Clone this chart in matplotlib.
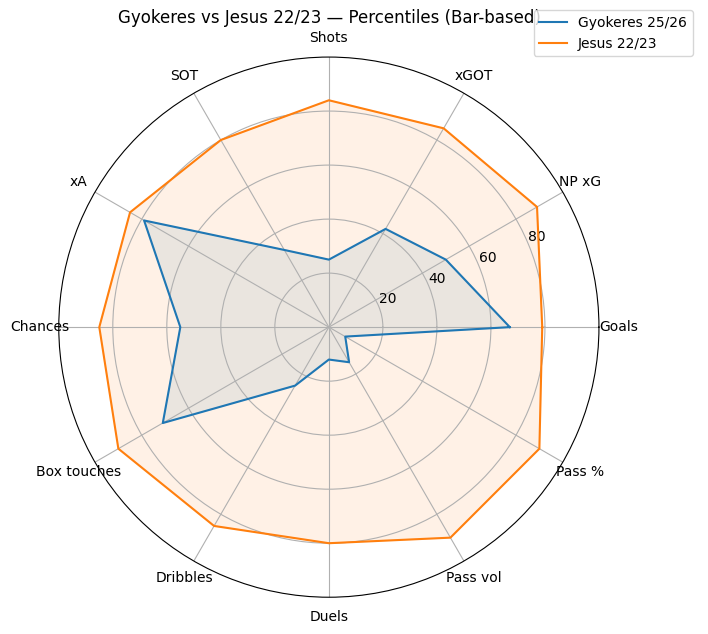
import numpy as np
import matplotlib
matplotlib.use("Agg")
import matplotlib.pyplot as plt

categories = ["Goals", "NP xG", "xGOT", "Shots", "SOT", "xA", "Chances",
              "Box touches", "Dribbles", "Duels", "Pass vol", "Pass %"]
gyokeres = [67, 50, 42, 25, 33, 79, 55, 71, 25, 12, 15, 7]
jesus = [79, 89, 85, 84, 80, 85, 85, 90, 85, 80, 90, 90]

n = len(categories)
angles = np.linspace(0, 2*np.pi, n, endpoint=False).tolist()
angles_c = angles + angles[:1]

fig = plt.figure(figsize=(7.08, 6.34), dpi=100)
ax = fig.add_axes([0.083, 0.058, 0.763, 0.852], projection="polar")

for vals, lab, col in [(gyokeres, "Gyokeres 25/26", "#1f77b4"), (jesus, "Jesus 22/23", "#ff7f0e")]:
    v = vals + vals[:1]
    ax.plot(angles_c, v, color=col, linewidth=1.5, label=lab)
    ax.fill(angles_c, v, color=col, alpha=0.1)

ax.set_xticks(angles)
ax.set_xticklabels(categories)
ax.set_ylim(0, 100)
ax.set_yticks([20, 40, 60, 80])
ax.set_yticklabels(["20", "40", "60", "80"])
fig.text(0.465, 0.971, "Gyokeres vs Jesus 22/23 — Percentiles (Bar-based)",
         ha="center", va="center", fontsize=12)
fig.legend(loc="upper right", bbox_to_anchor=(0.988, 0.995))
fig.savefig("out.png", dpi=100)
